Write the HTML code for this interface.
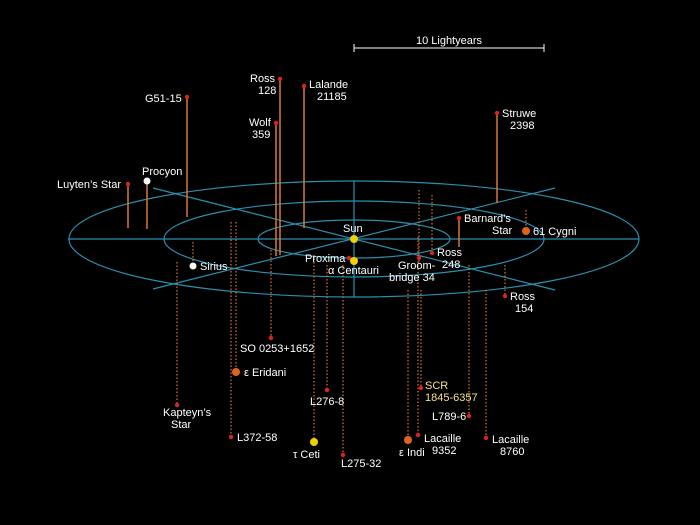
<!DOCTYPE html><html><head><style>body{margin:0;background:#000}svg{display:block}text{font-family:"Liberation Sans",sans-serif;font-size:11px;fill:#fff}</style></head><body>
<svg width="700" height="525" viewBox="0 0 700 525">
<g fill="none" stroke="#2a8fae" stroke-width="1.2">
<ellipse cx="354" cy="239" rx="285" ry="58"/>
<ellipse cx="354" cy="239" rx="190" ry="38"/>
<ellipse cx="354" cy="239" rx="96" ry="19"/>
<line x1="68" y1="239" x2="639" y2="239"/>
<line x1="354" y1="181" x2="354" y2="297"/>
<line x1="153" y1="188" x2="555" y2="290"/>
<line x1="153" y1="289" x2="555" y2="188"/>
</g>
<g stroke="#d9783a" stroke-width="1.5">
<line x1="128" y1="184" x2="128" y2="228"/><line x1="147" y1="181" x2="147" y2="229"/>
<line x1="187" y1="97" x2="187" y2="217"/><line x1="280" y1="79" x2="280" y2="255"/>
<line x1="304" y1="86" x2="304" y2="228"/><line x1="276" y1="123" x2="276" y2="256"/>
<line x1="497" y1="113" x2="497" y2="203"/><line x1="459" y1="218" x2="459" y2="247"/>
</g>
<g stroke="#d9783a" stroke-width="1.2" stroke-dasharray="1.5,2">
<line x1="193" y1="242" x2="193" y2="266"/><line x1="177" y1="262" x2="177" y2="405"/>
<line x1="231" y1="222" x2="231" y2="437"/><line x1="236" y1="222" x2="236" y2="371"/>
<line x1="271" y1="250" x2="271" y2="338"/><line x1="327" y1="265" x2="327" y2="390"/>
<line x1="314" y1="255" x2="314" y2="440"/><line x1="343" y1="265" x2="343" y2="455"/>
<line x1="419" y1="190" x2="419" y2="262"/><line x1="408" y1="290" x2="408" y2="438"/>
<line x1="418" y1="237" x2="418" y2="435"/><line x1="421" y1="290" x2="421" y2="388"/>
<line x1="469" y1="265" x2="469" y2="416"/><line x1="486" y1="290" x2="486" y2="438"/>
<line x1="505" y1="265" x2="505" y2="296"/><line x1="432" y1="195" x2="432" y2="253"/>
<line x1="526" y1="210" x2="526" y2="230"/>
</g>
<g fill="#d22">
<circle cx="128" cy="184" r="2.2"/><circle cx="187" cy="97" r="2.2"/><circle cx="280" cy="79" r="2.2"/>
<circle cx="304" cy="86" r="2.2"/><circle cx="276" cy="123" r="2.2"/><circle cx="497" cy="113" r="2.2"/>
<circle cx="459" cy="218" r="2.2"/><circle cx="432" cy="253" r="2.2"/><circle cx="419" cy="258" r="2.2"/>
<circle cx="505" cy="296" r="2.2"/><circle cx="349" cy="258" r="2.2"/><circle cx="271" cy="338" r="2.2"/>
<circle cx="327" cy="390" r="2.2"/><circle cx="231" cy="437" r="2.2"/><circle cx="343" cy="455" r="2.2"/>
<circle cx="421" cy="388" r="2.2"/><circle cx="469" cy="416" r="2.2"/><circle cx="418" cy="435" r="2.2"/>
<circle cx="486" cy="438" r="2.2"/><circle cx="177" cy="405" r="2.2"/>
</g>
<g fill="#fff"><circle cx="147" cy="181" r="3.5"/><circle cx="193" cy="266" r="3.5"/></g>
<g fill="#f0d000"><circle cx="354" cy="239" r="4"/><circle cx="354" cy="261" r="4"/><circle cx="314" cy="442" r="4"/></g>
<g fill="#e0651a"><circle cx="526" cy="231" r="4"/><circle cx="236" cy="372" r="4"/><circle cx="408" cy="440" r="4"/></g>
<line x1="354" y1="48" x2="544" y2="48" stroke="#fff"/><line x1="354" y1="44" x2="354" y2="52" stroke="#fff"/><line x1="544" y1="44" x2="544" y2="52" stroke="#fff"/>
<text x="449" y="44" text-anchor="middle">10 Lightyears</text>
<text x="57" y="188">Luyten’s Star</text><text x="142" y="175">Procyon</text>
<text x="145" y="102">G51-15</text><text x="250" y="82">Ross</text><text x="258" y="94">128</text>
<text x="309" y="88">Lalande</text><text x="317" y="100">21185</text>
<text x="249" y="126">Wolf</text><text x="252" y="138">359</text>
<text x="502" y="117">Struwe</text><text x="510" y="129">2398</text>
<text x="464" y="222">Barnard’s</text><text x="492" y="234">Star</text><text x="533" y="235">61 Cygni</text>
<text x="343" y="232">Sun</text><text x="305" y="262">Proxima</text><text x="328" y="274">α Centauri</text>
<text x="200" y="270">Sirius</text><text x="437" y="256">Ross</text><text x="442" y="268">248</text>
<text x="398" y="269">Groom-</text><text x="389" y="281">bridge 34</text>
<text x="510" y="300">Ross</text><text x="515" y="312">154</text>
<text x="240" y="352">SO 0253+1652</text><text x="244" y="376">ε Eridani</text>
<text x="163" y="416">Kapteyn’s</text><text x="171" y="428">Star</text><text x="237" y="441">L372-58</text>
<text x="310" y="405">L276-8</text><text x="293" y="458">τ Ceti</text><text x="341" y="467">L275-32</text>
<text x="425" y="389" style="fill:#f5e08a">SCR</text><text x="425" y="401" style="fill:#f5e08a">1845-6357</text>
<text x="432" y="420">L789-6</text><text x="424" y="442">Lacaille</text><text x="432" y="454">9352</text>
<text x="399" y="456">ε Indi</text><text x="492" y="443">Lacaille</text><text x="500" y="455">8760</text>
</svg></body></html>
